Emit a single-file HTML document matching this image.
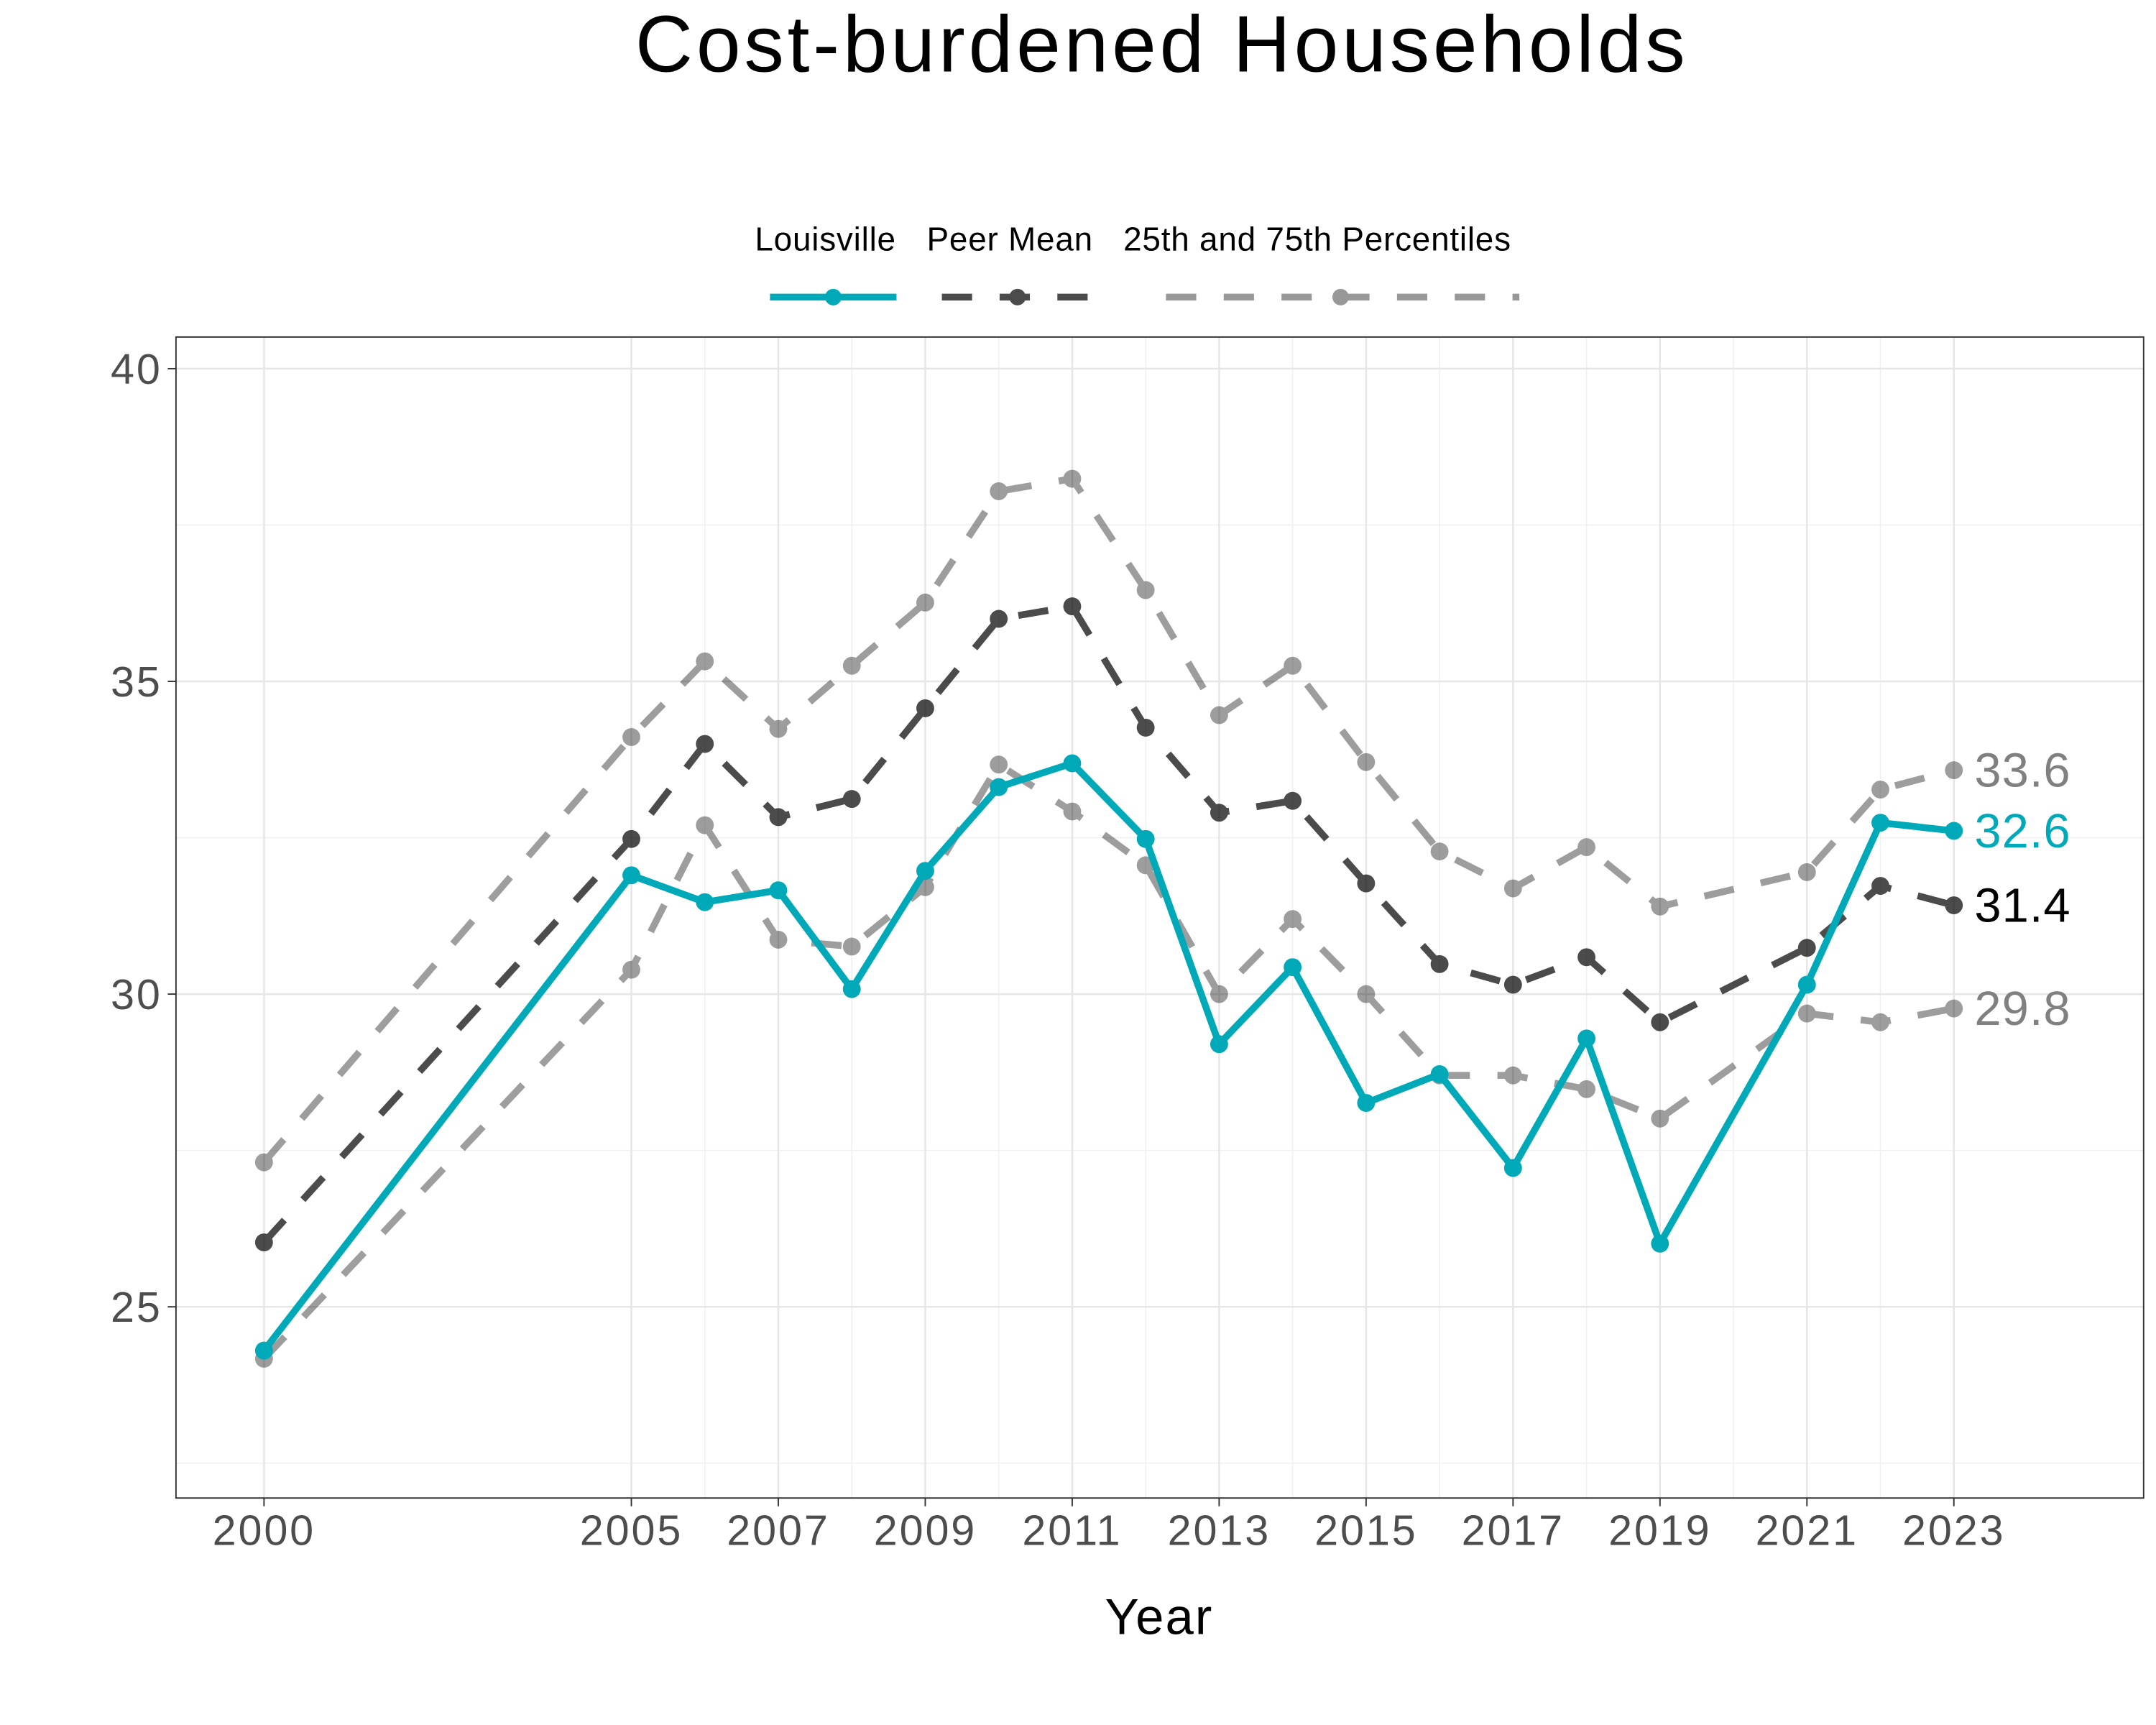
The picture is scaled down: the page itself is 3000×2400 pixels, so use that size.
<!DOCTYPE html>
<html><head><meta charset="utf-8"><style>
html,body{margin:0;padding:0;background:#fff;}
svg{display:block;font-family:"Liberation Sans",sans-serif;}
</style></head><body>
<svg id="chart" width="3000" height="2400" viewBox="0 0 1568 1254" preserveAspectRatio="none" xmlns="http://www.w3.org/2000/svg">
<rect width="1568" height="1254" fill="#fff"/>
<text x="845" y="52" font-size="58" letter-spacing="2.5" text-anchor="middle" fill="#000">Cost-burdened Households</text>
<g id="grid"></g>
<rect x="128" y="245" width="1431" height="844" fill="none" stroke="#333" stroke-width="1"/>
<g id="series"></g>
<g id="axes"></g>
<text x="843" y="1188" font-size="37" letter-spacing="1" text-anchor="middle" fill="#000">Year</text>
<g font-size="24" letter-spacing="0.4" fill="#000">
  <text x="549" y="182">Louisville</text>
  <text x="674" y="182">Peer Mean</text>
  <text x="817" y="182">25th and 75th Percentiles</text>
  <g><line x1="560" y1="216" x2="652" y2="216" stroke="#00A9B7" stroke-width="5"/><circle cx="606" cy="216" r="6" fill="#00A9B7"/></g>
  <g opacity="0.7"><line x1="685" y1="216" x2="795" y2="216" stroke="#000" stroke-width="5" stroke-dasharray="22 20"/><circle cx="740" cy="216" r="6" fill="#000"/></g>
  <g opacity="0.4"><line x1="848" y1="216" x2="1105" y2="216" stroke="#000" stroke-width="5" stroke-dasharray="22 20"/><circle cx="975" cy="216" r="6" fill="#000"/></g>
</g>
</svg>
<script>
const years = [2000,2005,2006,2007,2008,2009,2010,2011,2012,2013,2014,2015,2016,2017,2018,2019,2021,2022,2023];
const louisville = [24.3,31.9,31.47,31.66,30.08,31.97,33.31,33.69,32.48,29.2,30.43,28.26,28.72,27.22,29.29,26.01,30.15,32.74,32.61];
const peerMean = [26.03,32.48,34.0,32.83,33.12,34.57,36.0,36.2,34.26,32.9,33.09,31.77,30.48,30.15,30.59,29.55,30.74,31.73,31.42];
const p75 = [27.31,34.11,35.32,34.24,35.25,36.26,38.04,38.24,36.46,34.46,35.25,33.71,32.28,31.69,32.35,31.4,31.95,33.27,33.58];
const p25 = [24.17,30.39,32.7,30.87,30.76,31.71,33.67,32.92,32.06,30.0,31.2,30.0,28.7,28.7,28.48,28.01,29.69,29.55,29.77];
const xTicks = [2000,2005,2007,2009,2011,2013,2015,2017,2019,2021,2023];
const xMinor = [2006,2008,2010,2012,2014,2016,2018,2020,2022];
const yTicks = [25,30,35,40];
const yMinor = [22.5,27.5,32.5,37.5];
const endLabels = ["33.6","32.6","31.4","29.8"];

const NS="http://www.w3.org/2000/svg";
const L=128,R=1559,T=245,B=1089;
const x=v=>192+(v-2000)*(1421-192)/23;
const y=v=>268+(40-v)*(950-268)/15;
function mk(tag,attrs,parent){const e=document.createElementNS(NS,tag);for(const k in attrs)e.setAttribute(k,attrs[k]);parent.appendChild(e);return e;}
const grid=document.getElementById('grid'),series=document.getElementById('series'),axes=document.getElementById('axes');
yMinor.forEach(v=>{const e=mk('line',{x1:L,x2:R,y1:y(v),y2:y(v),stroke:'#f0f0f0','stroke-width':0.8},grid);

});
xMinor.forEach(v=>{const e=mk('line',{x1:x(v),x2:x(v),y1:T,y2:B,stroke:'#f0f0f0','stroke-width':0.8},grid);

});
yTicks.forEach(v=>{const e=mk('line',{x1:L,x2:R,y1:y(v),y2:y(v),stroke:'#e6e6e6','stroke-width':1.3},grid);


const t=mk('text',{x:118,y:y(v)+11,'font-size':31,'letter-spacing':1.5,'text-anchor':'end',fill:'#4d4d4d'},axes);t.textContent=v;


const tk=mk('line',{x1:122,x2:L,y1:y(v),y2:y(v),stroke:'#333','stroke-width':1},axes);

});
xTicks.forEach(v=>{const e=mk('line',{x1:x(v),x2:x(v),y1:T,y2:B,stroke:'#e6e6e6','stroke-width':1.3},grid);


const t=mk('text',{x:x(v),y:1123,'font-size':31,'letter-spacing':1.5,'text-anchor':'middle',fill:'#4d4d4d'},axes);t.textContent=v;


const tk=mk('line',{x1:x(v),x2:x(v),y1:B,y2:B+6,stroke:'#333','stroke-width':1},axes);

});
function draw(vals,name,color,op,dash){
  const g=mk('g',{opacity:op},series);
  
  
  const pts=vals.map((v,i)=>x(years[i])+','+y(v)).join(' ');
  const attrs={points:pts,fill:'none',stroke:color,'stroke-width':5,'stroke-linejoin':'round'};
  if(dash)attrs['stroke-dasharray']=dash;
  const pl=mk('polyline',attrs,g);
  
  
  vals.forEach((v,i)=>{const c=mk('circle',{cx:x(years[i]),cy:y(v),r:6.5,fill:color},g);
  
  });
}
draw(p75,'percentile-75','#000',0.38,'22 20');
draw(p25,'percentile-25','#000',0.38,'22 20');
draw(peerMean,'peer-mean','#000',0.7,'22 20');
draw(louisville,'louisville','#00A9B7',1,null);
const lblVals=[p75[p75.length-1],louisville[louisville.length-1],peerMean[peerMean.length-1],p25[p25.length-1]];
const lblCol=['#808080','#00A9B7','#000','#808080'];
const lblNames=['label-75th','label-louisville','label-peer-mean','label-25th'];
lblVals.forEach((v,i)=>{const t=mk('text',{x:1436,y:y(v)+12,'font-size':35,'letter-spacing':0.5,fill:lblCol[i]},series);t.textContent=endLabels[i];

});
</script>
</body></html>
